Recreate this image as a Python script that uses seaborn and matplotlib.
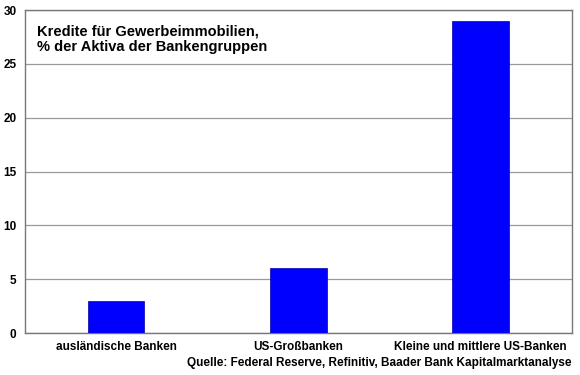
import matplotlib.pyplot as plt
import seaborn as sns
import pandas as pd

# Daten
banken = ["ausländische Banken", "US-Großbanken", "Kleine und mittlere US-Banken"]
anteil = [3.0, 6.0, 29.0]

df = pd.DataFrame({"Bank": banken, "Anteil": anteil})

sns.set_style("white")
plt.rcParams["font.family"] = ["Liberation Sans", "DejaVu Sans"]
plt.rcParams["font.weight"] = "bold"
plt.rcParams["text.color"] = "black"
plt.rcParams["xtick.color"] = "black"
plt.rcParams["ytick.color"] = "black"

fig, ax = plt.subplots(figsize=(5.8, 3.75), dpi=100)
fig.subplots_adjust(left=0.043, right=0.986, top=0.973, bottom=0.112)

sns.barplot(data=df, x="Bank", y="Anteil", color="#0000ff", width=0.31,
            saturation=1, edgecolor="#0000aa", linewidth=0.5, ax=ax, zorder=3)

ax.set_ylim(0, 30)
ax.set_yticks(range(0, 31, 5))
ax.grid(axis="y", color="#999999", linewidth=0.9, zorder=0)
ax.set_axisbelow(True)
for s in ax.spines.values():
    s.set_color("#777777")
    s.set_linewidth(1)

ax.set_xlabel("")
ax.set_ylabel("")
ax.tick_params(axis="both", length=0, labelsize=8.5, pad=6, labelcolor="black")
for lbl in ax.get_xticklabels() + ax.get_yticklabels():
    lbl.set_fontweight("bold")

ax.text(0.022, 0.955, "Kredite für Gewerbeimmobilien,\n% der Aktiva der Bankengruppen",
        transform=ax.transAxes, fontsize=10.5, fontweight="bold", va="top",
        linespacing=1.15, color="black")

fig.text(0.985, 0.015, "Quelle: Federal Reserve, Refinitiv, Baader Bank Kapitalmarktanalyse",
         ha="right", va="bottom", fontsize=8.5, fontweight="bold", color="black")

plt.savefig("out.png", dpi=100)
